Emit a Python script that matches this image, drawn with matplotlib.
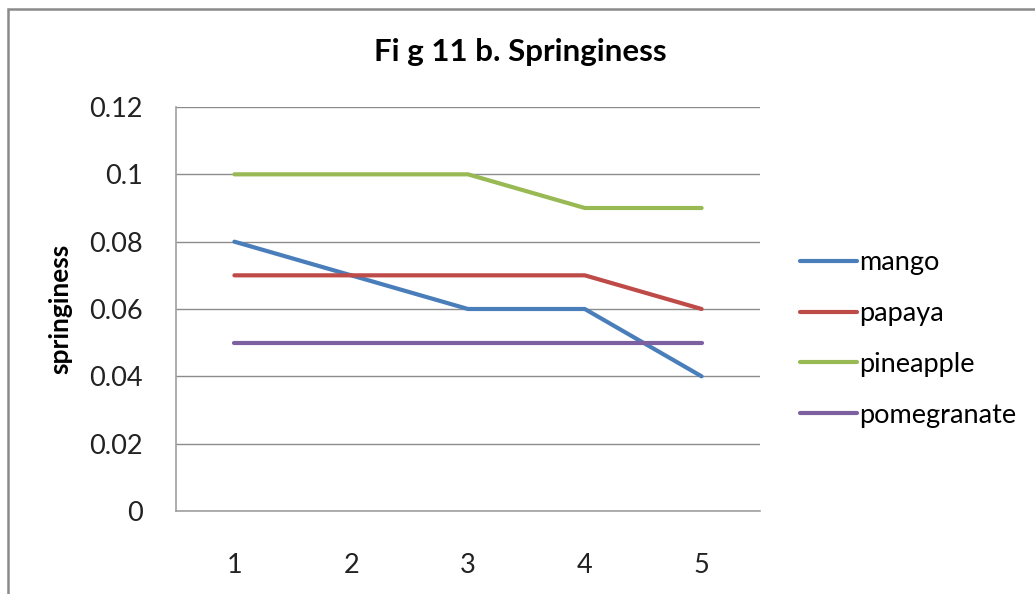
import matplotlib.pyplot as plt
from matplotlib.patches import Rectangle

# springiness over 5 samples
days = [1, 2, 3, 4, 5]
mango = [0.08, 0.07, 0.06, 0.06, 0.04]
papaya = [0.07, 0.07, 0.07, 0.07, 0.06]
pineapple = [0.10, 0.10, 0.10, 0.09, 0.09]
pomegranate = [0.05, 0.05, 0.05, 0.05, 0.05]
yticks = [0, 0.02, 0.04, 0.06, 0.08, 0.10, 0.12]
ytick_labels = ['0', '0.02', '0.04', '0.06', '0.08', '0.1', '0.12']

plt.rcParams['font.family'] = ['Lato', 'DejaVu Sans']

fig = plt.figure(figsize=(10.35, 5.94), dpi=100)
ax = fig.add_axes([176 / 1035, 1 - 511 / 594, (760 - 176) / 1035, (511 - 107) / 594])

# outer chart border (right/bottom run off the picture)
fig.patches.append(Rectangle((8 / 1035, -0.05), 1.1, 1 - 9 / 594 + 0.05,
                             transform=fig.transFigure, fill=False,
                             edgecolor='#8a8a8a', lw=1.8))

ax.plot(days, mango, color='#4A7EBB', lw=3, label='mango', solid_capstyle='round')
ax.plot(days, papaya, color='#BE4B48', lw=3, label='papaya', solid_capstyle='round')
ax.plot(days, pineapple, color='#98B954', lw=3, label='pineapple', solid_capstyle='round')
ax.plot(days, pomegranate, color='#7D60A0', lw=3, label='pomegranate', solid_capstyle='round')

ax.set_xlim(0.5, 5.5)
ax.set_ylim(0, 0.12)
ax.set_xticks(days)
ax.set_yticks(yticks)
ax.set_yticklabels(ytick_labels)
ax.tick_params(length=0, labelsize=19.5, colors='#222222')
ax.tick_params(axis='y', pad=24)
ax.tick_params(axis='x', pad=30)
ax.grid(axis='y', color='#8c8c8c', lw=1)
ax.set_axisbelow(True)
for s in ['top', 'right']:
    ax.spines[s].set_visible(False)
for s in ['left', 'bottom']:
    ax.spines[s].set_color('#a0a0a0')
    ax.spines[s].set_linewidth(1.2)

ax.set_ylabel('springiness', fontsize=19, fontweight='bold')
ax.yaxis.set_label_coords(-104 / 584, 0.5)
fig.text(520 / 1035, 1 - 52 / 594, 'Fi g 11 b. Springiness', fontsize=22.5,
         fontweight='bold', ha='center', va='center')

ax.legend(loc='center left', bbox_to_anchor=(800 / 1035, 1 - 339 / 594),
          bbox_transform=fig.transFigure, frameon=False, fontsize=19.5,
          handlelength=2.1, handletextpad=0.1, labelspacing=0.95,
          borderaxespad=0, borderpad=0)

fig.savefig('out.png', dpi=100)
